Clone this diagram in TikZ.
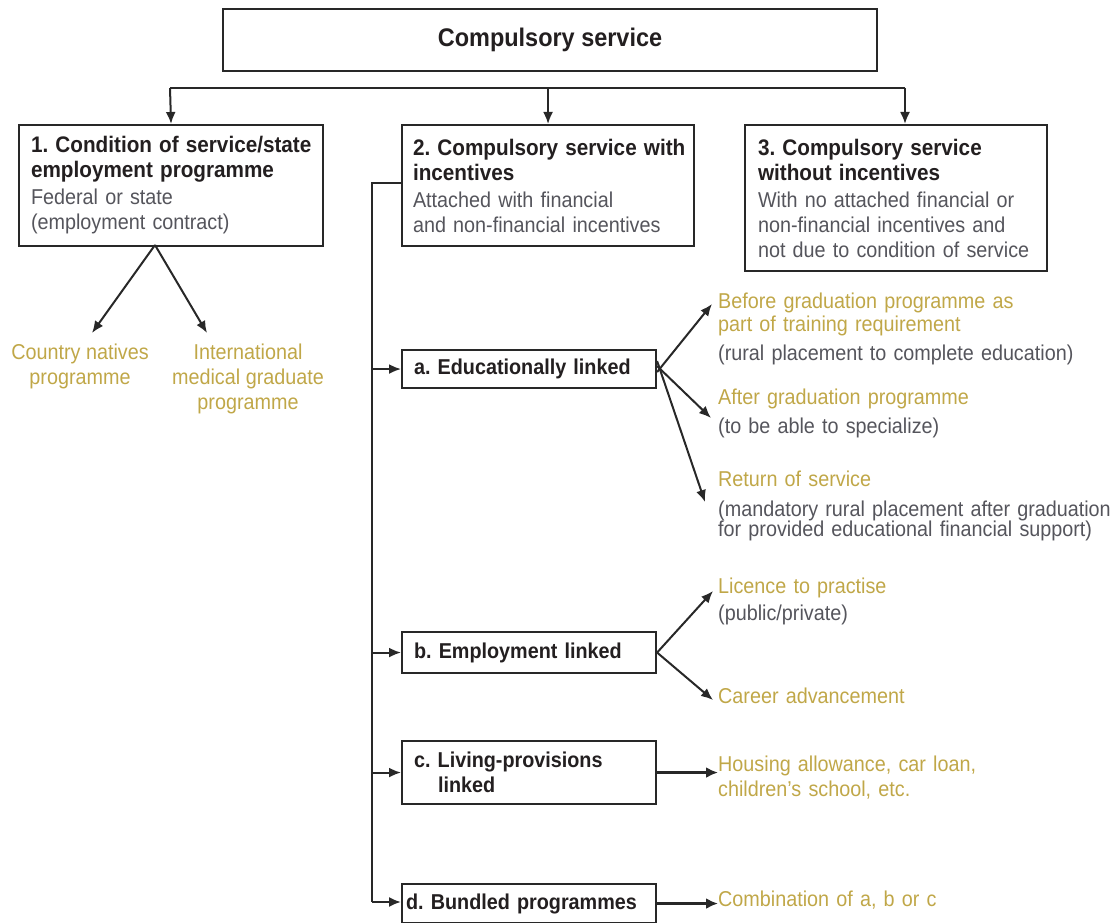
\documentclass[tikz,border=0pt]{standalone}
\usepackage{fontspec}
\setmainfont{Liberation Sans}[FakeStretch=0.92]
\usetikzlibrary{arrows.meta}
\definecolor{gold}{RGB}{192,167,72}
\definecolor{greyt}{RGB}{85,85,92}
\definecolor{darkt}{RGB}{35,31,32}
\definecolor{linec}{RGB}{40,40,40}
\newcommand\bodyf{\frenchspacing\fontsize{21.5}{25}\selectfont}
\begin{document}
\begin{tikzpicture}[x=1pt,y=-1pt,
  box/.style={draw=linec, line width=2.1pt, fill=white, inner xsep=12pt, inner ysep=3pt,
              anchor=north west, text=darkt, align=left, font=\bodyf},
  sbox/.style={box, minimum width=254pt, text width=230pt, font=\bodyf\bfseries},
  lbl/.style={anchor=north west, inner sep=0pt, align=left, text=gold, font=\bodyf, text width=400pt},
  clbl/.style={anchor=north, inner sep=0pt, align=center, text=gold, font=\bodyf},
  conn/.style={draw=linec, line width=2pt},
  arr/.style={draw=linec, line width=2pt, -{Latex[length=12pt,width=10pt]}},
  thick arr/.style={draw=linec, line width=3.2pt, -{Latex[length=12pt,width=11pt]}}
]
\useasboundingbox (0,0) rectangle (1119,923);

% top box
\node[box, minimum width=654pt, minimum height=62pt, align=center, font=\frenchspacing\fontsize{25.5}{28}\selectfont\bfseries] (top) at (222,8) {Compulsory service};

% level 1 boxes
\node[box, minimum width=304pt, minimum height=121pt, text width=280pt] (b1) at (18,124)
 {{\fontsize{22.5}{25}\selectfont\bfseries\mbox{1. Condition of service/state}\\ employment programme}\\[2pt]
  \color{greyt}Federal or state\\ (employment contract)};
\node[box, minimum width=292pt, minimum height=121pt, text width=270pt, inner xsep=11pt] (b2) at (401,124)
 {{\fontsize{22.5}{25}\selectfont\bfseries\mbox{2. Compulsory service with}\\ incentives}\\[2pt]
  \color{greyt}Attached with financial\\ \mbox{and non-financial incentives}};
\node[box, minimum width=302pt, minimum height=146pt, text width=276pt, inner xsep=13pt] (b3) at (744,124)
 {{\fontsize{22.5}{25}\selectfont\bfseries 3. Compulsory service\\ without incentives}\\[2pt]
  \color{greyt}With no attached financial or\\ non-financial incentives and\\ \mbox{not due to condition of service}};

% bus
\coordinate (busL) at (170,88);
\coordinate (busR) at (905,88);
\draw[conn] (busL) -- (busR);
\draw[arr] (busL) -- (b1.north);
\draw[arr] (b2.north |- busL) -- (b2.north);
\draw[arr] (busR) -- (busR |- b3.north);

% branch 1 outputs
\node[clbl] (cn) at (80,344) {Country natives\\ programme};
\node[clbl] (img) at (248,344) {International\\ medical graduate\\ programme};
\coordinate (b1s) at (155,245);
\draw[arr] (b1s) -- (92,333);
\draw[arr] (b1s) -- (207,333);

% sub boxes
\node[sbox, minimum height=38pt] (a) at (401,349) {a. Educationally linked};
\node[sbox, minimum height=41pt] (b) at (401,631) {b. Employment linked};
\node[sbox, minimum height=63pt] (c) at (401,740) {c. Living-provisions\\ \hspace*{24pt}linked};
\node[sbox, minimum height=39pt, inner xsep=4pt, text width=246pt] (d) at (401,883) {\mbox{d. Bundled programmes}};

% spine
\coordinate (sp) at (372,183);
\coordinate (spB) at (372,902);
\draw[conn] (b2.west |- sp) -- (sp) -- (spB);
\draw[arr] (sp |- a.west) -- (a.west);
\draw[arr] (sp |- b.west) -- (b.west);
\draw[arr] (sp |- c.west) -- (c.west);
\draw[arr] (spB) -- (spB -| d.west);

% outputs of a
\node[lbl] (a1) at (718,293) {Before graduation programme as\\[-2pt] part of training requirement\\[4pt]
  \color{greyt}(rural placement to complete education)};
\node[lbl] (a2) at (718,389) {After graduation programme\\[4pt] \color{greyt}(to be able to specialize)};
\node[lbl] (a3) at (718,471) {Return of service\\[5pt] \color{greyt}(mandatory rural placement after graduation\\[-5pt] for provided educational financial support)};
\coordinate (ta1) at (712,304);
\coordinate (ta2) at (711,418);
\coordinate (ta3) at (705,502);
\draw[arr] ([yshift=-3pt]a.east) -- (ta1);
\draw[arr] ([yshift=3pt]a.east) -- (ta2);
\draw[arr] ([yshift=8pt]a.east) -- (ta3);

% outputs of b
\node[lbl] (b1o) at (718,578) {Licence to practise\\[2pt] \color{greyt}(public/private)};
\node[lbl] (b2o) at (718,688) {Career advancement};
\coordinate (tb1) at (713,591);
\coordinate (tb2) at (713,700);
\draw[arr] (b.east) -- (tb1);
\draw[arr] (b.east) -- (tb2);

% outputs of c and d
\node[lbl] (co) at (718,756) {Housing allowance, car loan,\\ children's school, etc.};
\draw[thick arr] (c.east) -- (co.west |- c.east);
\node[lbl] (dout) at (718,891) {Combination of a, b or c};
\draw[thick arr] (d.east) -- (dout.west |- d.east);
\end{tikzpicture}
\end{document}
